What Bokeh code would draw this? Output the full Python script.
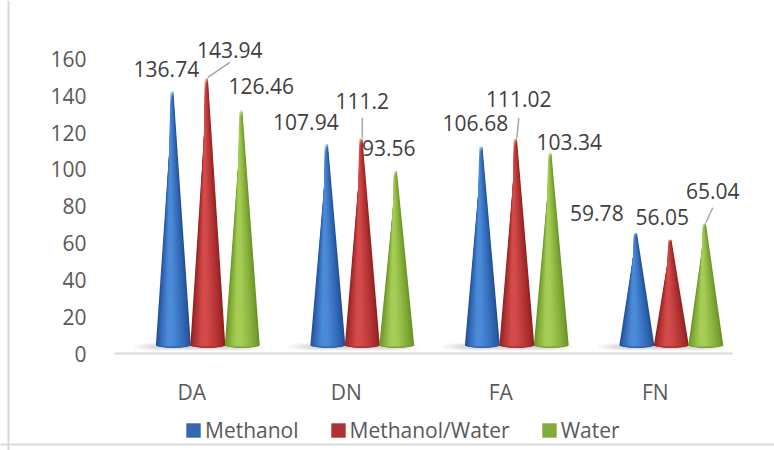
import numpy as np
from bokeh.plotting import figure
from bokeh.models import (ColumnDataSource, FixedTicker, Legend, LegendItem,
                          LinearAxis, Span)
from bokeh.core.properties import value
from bokeh.embed import file_html
from bokeh.resources import INLINE

# ---- data -------------------------------------------------------------
categories = ["DA", "DN", "FA", "FN"]
methanol = [136.74, 107.94, 106.68, 59.78]
methanol_water = [143.94, 111.2, 111.02, 56.05]
water = [126.46, 93.56, 103.34, 65.04]
series_names = ["Methanol", "Methanol/Water", "Water"]
y_ticks = [0, 20, 40, 60, 80, 100, 120, 140, 160]

# ---- style ------------------------------------------------------------
FONT = "Open Sans"
# (dark edge, highlight) per series
palettes = [
    ("#22509a", "#4a8ad8"),
    ("#962020", "#d24a4a"),
    ("#6a9526", "#a5cd55"),
]
SLOT = 0.223          # spacing between cones inside a category
DEPTH_X = 0.104       # 3D depth shift of the cone row
BASE_Y = 4.5          # floor height of the cone bases
TIP_LIFT = 6.0        # perspective lift of the tips
HALF_W = 0.113        # cone base half width
ELL_RY = 1.4          # base ellipse vertical radius

# pixel offsets of the data labels relative to each cone tip
label_dx = [[-7, 22, 19], [-22, 0, -8], [-7, 2, 18], [-40, -9, 7]]
label_dy = [[-22, -27, -24], [-22, -37, -22], [-23, -39, -10], [-19, -22, -32]]
# leader lines (category, series, dx, dy) in pixels from the tip
leaders = [(0, 1, 22, -15), (1, 1, 0, -20), (2, 1, 2, -20), (3, 2, 7, -15)]

W, H = 774, 450
ORIGIN_X, ORIGIN_Y = 114, 353        # screen position of (0, 0)
PX_X = 154.5                         # pixels per category
PX_Y = 1.841                         # pixels per y unit

# the plotting frame covers the whole canvas; axes sit at fixed locations
p = figure(width=W, height=H, output_backend="svg", toolbar_location=None,
           x_range=(-ORIGIN_X / PX_X, (W - ORIGIN_X) / PX_X),
           y_range=(-(H - ORIGIN_Y) / PX_Y, ORIGIN_Y / PX_Y),
           x_axis_location=None, y_axis_location=None,
           min_border=0)
p.outline_line_color = None
p.grid.visible = False
p.background_fill_color = "white"
p.border_fill_color = "white"

# chart area border (left and top edges)
p.add_layout(Span(location=8, location_units="screen", dimension="height",
                  line_color="#d9d9d9", line_width=2, level="underlay"))
p.add_layout(Span(location=6, location_units="screen", dimension="width",
                  line_color="#d9d9d9", line_width=2, level="underlay"))

series_values = [methanol, methanol_water, water]


def mix(c1, c2, t):
    a = [int(c1[k:k + 2], 16) for k in (1, 3, 5)]
    b = [int(c2[k:k + 2], 16) for k in (1, 3, 5)]
    return "#" + "".join(f"{round(a[k] + (b[k] - a[k]) * t):02x}" for k in range(3))


def cone(cx, tip, frac, shift=0.0):
    w = HALF_W * frac
    c = cx + shift * HALF_W
    t = np.linspace(0, np.pi, 24)
    xs = [c] + list(c + w * np.cos(t))
    ys = [tip] + list(BASE_Y - ELL_RY * frac * np.sin(t))
    return xs, ys


# soft floor shadows
sh_x, sh_y = [], []
for i in range(4):
    for j in range(3):
        sh_x.append(i + 0.5 + DEPTH_X + (j - 1) * SLOT - 0.06)
        sh_y.append(BASE_Y - 0.8)
for k, a in enumerate([0.06, 0.09, 0.12]):
    p.ellipse(x=sh_x, y=sh_y, width=HALF_W * 3.5 * (1 - 0.22 * k),
              height=4.8 * (1 - 0.25 * k),
              fill_color="#7f7f7f", fill_alpha=a, line_color=None)

N_LAYERS = 10
legend_items = []
for j, vals in enumerate(series_values):
    dark, light = palettes[j]
    icon = None
    for L in range(N_LAYERS):
        t = L / (N_LAYERS - 1)
        frac = 1.0 - 0.8 * t
        shift = -0.18 * t
        col = mix(dark, light, t ** 0.8)
        xs_all, ys_all = [], []
        for i, v in enumerate(vals):
            cx = i + 0.5 + DEPTH_X + (j - 1) * SLOT
            xs, ys = cone(cx, v + TIP_LIFT, frac, shift)
            xs_all.append(xs)
            ys_all.append(ys)
        r = p.patches(xs_all, ys_all, fill_color=col, line_color=None)
        if L == 3:
            icon = r
    legend_items.append(LegendItem(label=series_names[j], renderers=[icon]))

# leader lines
for (i, j, dx, dy) in leaders:
    cx = i + 0.5 + DEPTH_X + (j - 1) * SLOT
    ty = series_values[j][i] + TIP_LIFT
    p.segment(x0=[cx], y0=[ty], x1=[cx + dx / PX_X], y1=[ty - dy / PX_Y],
              line_color="#a6a6a6", line_width=1.5)

# data labels
lx, ly, lt, ox, oy = [], [], [], [], []
for i in range(4):
    for j in range(3):
        v = series_values[j][i]
        lx.append(i + 0.5 + DEPTH_X + (j - 1) * SLOT)
        ly.append(v + TIP_LIFT)
        lt.append(str(v))
        ox.append(label_dx[i][j])
        oy.append(label_dy[i][j])
src = ColumnDataSource(dict(x=lx, y=ly, text=lt, ox=ox, oy=oy))
p.text(x="x", y="y", text="text", x_offset="ox", y_offset="oy", source=src,
       text_align="center", text_baseline="middle",
       text_font=value(FONT), text_font_size="21px", text_color="#404040")

# axes
xaxis = LinearAxis(fixed_location=0, bounds=(0, 4),
                   ticker=FixedTicker(ticks=[i + 0.5 for i in range(4)]),
                   major_label_overrides={i + 0.5: c for i, c in enumerate(categories)},
                   axis_line_color="#d9d9d9", axis_line_width=2,
                   major_tick_line_color=None, minor_tick_line_color=None,
                   major_label_standoff=18, major_label_text_font=FONT,
                   major_label_text_font_size="21px",
                   major_label_text_color="#595959")
p.add_layout(xaxis, "below")

yaxis = LinearAxis(fixed_location=0, bounds=(0, 160),
                   ticker=FixedTicker(ticks=y_ticks),
                   axis_line_color=None, major_tick_line_color=None,
                   minor_tick_line_color=None, major_label_standoff=22,
                   major_label_text_font=FONT,
                   major_label_text_font_size="21px",
                   major_label_text_color="#595959")
p.add_layout(yaxis, "left")

legend = Legend(items=legend_items, orientation="horizontal",
                location=(184, 6), padding=0, margin=0, spacing=30,
                label_standoff=3, glyph_width=18, glyph_height=18,
                label_text_font=FONT, label_text_font_size="21px",
                label_text_color="#595959", border_line_color=None,
                background_fill_alpha=0)
p.add_layout(legend, "center")

open("out.html", "w").write(file_html(p, INLINE))
